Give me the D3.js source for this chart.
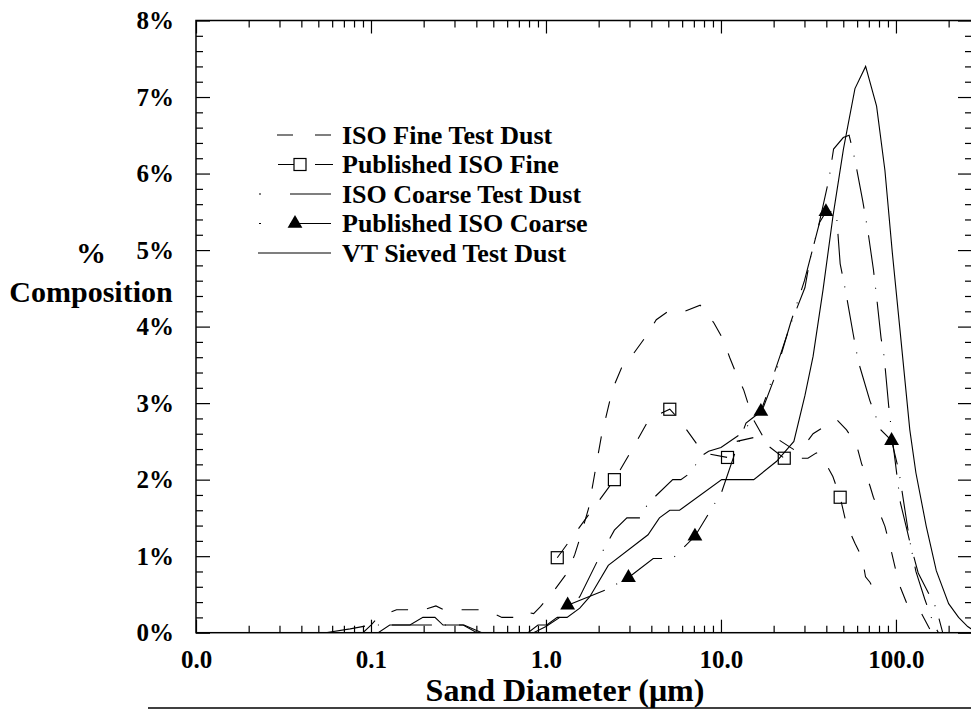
<!DOCTYPE html>
<html><head><meta charset="utf-8">
<script src="https://cdn.jsdelivr.net/npm/d3@7"></script>
<style>
body{margin:0;background:#fff}
svg{display:block}
text{font-family:"Liberation Serif","Times New Roman",serif;font-weight:bold;fill:#000}
</style>
</head><body>
<svg id="chart" width="971" height="711"></svg>
<script>
// ---- data ----
const xTickValues = [0.01, 0.1, 1, 10, 100];
const xTickLabels = ["0.0", "0.1", "1.0", "10.0", "100.0"];
const yTickValues = [0, 1, 2, 3, 4, 5, 6, 7, 8];
const yTickLabels = ["0%", "1%", "2%", "3%", "4%", "5%", "6%", "7%", "8%"];
const seriesNames = ["ISO Fine Test Dust", "Published ISO Fine", "ISO Coarse Test Dust", "Published ISO Coarse", "VT Sieved Test Dust"];

const isoFineSize = [0.09,0.1,0.11,0.14,0.2,0.235,0.26,0.42,0.5,0.56,0.68,0.76,0.85,0.93,1.12,1.32,1.46,1.56,1.75,1.9,2.07,2.31,2.46,2.7,3.17,3.72,4.27,5.0,6.2,7.6,9.1,10.3,11.2,12.2,13.5,15.2,17.5,21.4,26.6,30,33.6,42,46,52.2,59.6,63.6,71,74.3,86.5,94.4,104,115,140,160];
const isoFinePct  = [0,0.1,0.2,0.3,0.3,0.35,0.3,0.3,0.25,0.2,0.2,0.27,0.25,0.34,0.56,0.78,1.02,1.23,1.62,2.08,2.56,3.02,3.24,3.46,3.65,3.87,4.09,4.2,4.2,4.28,4.05,3.83,3.6,3.39,3.17,2.8,2.55,2.52,2.38,2.45,2.6,2.74,2.78,2.65,2.45,2.21,1.92,1.77,1.39,1.05,0.64,0.39,0.25,0];

const pubFineSize = [1.16,2.46,3.1,3.9,5.1,5.8,7.0,7.9,10.9,12.3,15.4,17.7,23,31.4,35.1,38.2,43.6,48,52.2,58.3,64.1,67,71,75];
const pubFinePct  = [0.98,2.0,2.39,2.8,2.92,2.78,2.52,2.35,2.29,2.5,2.55,2.48,2.28,2.28,2.35,2.28,2.04,1.77,1.41,1.17,0.98,0.73,0.66,0.55];
const pubFineMarkSize = [1.16,2.46,5.1,10.9,23,48];
const pubFineMarkPct  = [0.98,2.0,2.92,2.29,2.28,1.77];

const isoCoarseSize = [0.055,0.076,0.1,0.34,0.43,0.85,1.0,1.2,1.56,2.0,2.46,2.9,3.45,3.83,5.3,5.9,6.8,7.6,8.5,10,13,17.5,20,25,30,36,41.5,44,50,54,58.3,64.5,69,74.3,77.5,82.2,85.6,90.9,97,106,120,130,146,165,175];
const isoCoarsePct  = [0,0.05,0.1,0.1,0,0,0.08,0.2,0.47,0.97,1.34,1.5,1.5,1.69,2.0,2.0,2.1,2.3,2.37,2.42,2.6,2.95,3.3,4.05,4.6,5.3,5.94,6.32,6.47,6.5,6.18,5.65,5.26,4.75,4.39,3.85,3.61,2.96,2.4,1.7,1.19,0.8,0.44,0.1,0];

const pubCoarseSize = [1.33,2.2,2.96,4.1,5.3,7.1,10.1,12.2,13.9,16.9,18.2,21.7,24.9,30.2,32.2,36.6,39.8,45.6,48,51.6,57,61,71,82,94.4,104,120,134,170,185];
const pubCoarsePct  = [0.36,0.56,0.72,0.97,0.97,1.26,1.84,2.39,2.74,2.89,3.1,3.61,4.02,4.51,4.87,5.36,5.5,5.5,4.82,4.46,3.9,3.54,3.03,2.65,2.51,2.11,1.19,0.78,0.32,0];
const pubCoarseMarkSize = [1.33,2.96,7.1,16.9,39.8,94.4];
const pubCoarseMarkPct  = [0.36,0.72,1.26,2.89,5.5,2.51];

const vtSize = [0.05,0.11,0.128,0.167,0.198,0.232,0.258,0.336,0.403,0.79,0.9,1.01,1.16,1.32,1.56,1.78,2.27,3.83,4.45,5.1,5.8,10.1,15.4,20.8,26.1,30.2,33.6,38.3,43.7,50.1,58.3,67.1,77.5,86.5,95.3,105,120,130,149,170,200,228,257,290];
const vtPct  = [0,0,0.1,0.1,0.2,0.2,0.1,0.1,0,0,0.1,0.1,0.2,0.2,0.32,0.47,0.88,1.28,1.5,1.6,1.6,2.0,2.0,2.24,2.5,3.1,3.61,4.48,5.45,6.32,7.11,7.4,6.88,6.04,4.97,4.0,2.65,2.09,1.39,0.81,0.38,0.2,0.08,0];

// ---- layout ----
const L = 196, R = 972, T = 20.5, B = 632.7;
const svg = d3.select("#chart");
const x = d3.scaleLog().domain([0.01, 272]).range([L, R]);
const y = d3.scaleLinear().domain([0, 8]).range([B, T]);

const zip = (a, b) => a.map((v, i) => [v, b[i]]);

// minor tick values
const xMinor = [];
xTickValues.forEach(d => { for (let k = 2; k <= 9; k++) { const v = d * k; if (v < 272) xMinor.push(v); } });
const yMinor = d3.range(0, 8.001, 0.2).filter(v => Math.abs(v - Math.round(v)) > 1e-6);

function styleAxis(g) { g.select(".domain").remove(); g.selectAll("line").attr("stroke", "#000").attr("stroke-width", 1.2); }

// bottom major + labels
svg.append("g").attr("transform", `translate(0,${B})`)
  .call(d3.axisBottom(x).tickValues(xTickValues).tickFormat((d, i) => xTickLabels[i]).tickSizeInner(-13).tickSizeOuter(0).tickPadding(17.5))
  .call(styleAxis)
  .selectAll("text").attr("font-size", 25).attr("font-family", null);
svg.append("g").attr("transform", `translate(0,${B})`)
  .call(d3.axisBottom(x).tickValues(xMinor).tickFormat("").tickSizeInner(-7).tickSizeOuter(0)).call(styleAxis);
// top
svg.append("g").attr("transform", `translate(0,${T})`)
  .call(d3.axisTop(x).tickValues(xTickValues).tickFormat("").tickSizeInner(-13).tickSizeOuter(0)).call(styleAxis);
svg.append("g").attr("transform", `translate(0,${T})`)
  .call(d3.axisTop(x).tickValues(xMinor).tickFormat("").tickSizeInner(-7).tickSizeOuter(0)).call(styleAxis);
// left
svg.append("g").attr("transform", `translate(${L},0)`)
  .call(d3.axisLeft(y).tickValues(yTickValues).tickFormat((d, i) => yTickLabels[i]).tickSizeInner(-14).tickSizeOuter(0).tickPadding(22))
  .call(styleAxis)
  .selectAll("text").attr("font-size", 25).attr("font-family", null);
svg.append("g").attr("transform", `translate(${L},0)`)
  .call(d3.axisLeft(y).tickValues(yMinor).tickFormat("").tickSizeInner(-7).tickSizeOuter(0)).call(styleAxis);
// right
svg.append("g").attr("transform", `translate(${R},0)`)
  .call(d3.axisRight(y).tickValues(yTickValues).tickFormat("").tickSizeInner(-14).tickSizeOuter(0)).call(styleAxis);
svg.append("g").attr("transform", `translate(${R},0)`)
  .call(d3.axisRight(y).tickValues(yMinor).tickFormat("").tickSizeInner(-7).tickSizeOuter(0)).call(styleAxis);

// frame
svg.append("rect").attr("x", L).attr("y", T).attr("width", R - L).attr("height", B - T)
  .attr("fill", "none").attr("stroke", "#000").attr("stroke-width", 1.5);

// clip
svg.append("clipPath").attr("id", "clip").append("rect")
  .attr("x", L).attr("y", T).attr("width", R - L).attr("height", B - T);

const line = d3.line().x(d => x(d[0])).y(d => y(d[1]));
const plot = svg.append("g").attr("clip-path", "url(#clip)");
const styles = [
  { dash: "17,19" },
  { dash: "17,19" },
  { dash: "40,13,1,13" },
  { dash: "40,13,1,13" },
  { dash: null }
];
const seriesData = [zip(isoFineSize, isoFinePct), zip(pubFineSize, pubFinePct), zip(isoCoarseSize, isoCoarsePct), zip(pubCoarseSize, pubCoarsePct), zip(vtSize, vtPct)];
seriesData.forEach((data, i) => {
  plot.append("path").datum(data).attr("d", line).attr("fill", "none")
    .attr("stroke", "#000").attr("stroke-width", 1.1)
    .attr("stroke-dasharray", styles[i].dash);
});

// markers
const sq = 12;
plot.selectAll("rect.sq").data(zip(pubFineMarkSize, pubFineMarkPct)).join("rect").attr("class", "sq")
  .attr("x", d => x(d[0]) - sq / 2).attr("y", d => y(d[1]) - sq / 2).attr("width", sq).attr("height", sq)
  .attr("fill", "none").attr("stroke", "#000").attr("stroke-width", 1.2);
const tri = d3.symbol().type(d3.symbolTriangle).size(95);
plot.selectAll("path.tri").data(zip(pubCoarseMarkSize, pubCoarseMarkPct)).join("path").attr("class", "tri")
  .attr("d", tri).attr("transform", d => `translate(${x(d[0])},${y(d[1])})`).attr("fill", "#000");

// legend
const lg = svg.append("g");
const rowY0 = 135, rowDy = 29.5, textX = 342;
seriesNames.forEach((name, i) => {
  const yy = rowY0 + i * rowDy;
  lg.append("text").attr("x", textX).attr("y", yy).attr("dy", "0.33em").attr("font-size", 26).text(name);
});
// sample 0: long dashes
lg.append("line").attr("x1", 277).attr("x2", 333).attr("y1", rowY0).attr("y2", rowY0)
  .attr("stroke", "#000").attr("stroke-width", 1.1).attr("stroke-dasharray", "16,22");
// sample 1: dash with square
lg.append("line").attr("x1", 278).attr("x2", 333).attr("y1", rowY0 + rowDy).attr("y2", rowY0 + rowDy)
  .attr("stroke", "#000").attr("stroke-width", 1.1).attr("stroke-dasharray", "16,21,18,100");
lg.append("rect").attr("x", 300 - sq / 2).attr("y", rowY0 + rowDy - sq / 2).attr("width", sq).attr("height", sq)
  .attr("fill", "#fff").attr("stroke", "#000").attr("stroke-width", 1.2);
// sample 2: dot + long dash
lg.append("line").attr("x1", 259).attr("x2", 331).attr("y1", rowY0 + 2 * rowDy).attr("y2", rowY0 + 2 * rowDy)
  .attr("stroke", "#000").attr("stroke-width", 1.1).attr("stroke-dasharray", "2,29,41,100");
// sample 3: dot + triangle + dash
lg.append("line").attr("x1", 259).attr("x2", 331).attr("y1", rowY0 + 3 * rowDy).attr("y2", rowY0 + 3 * rowDy)
  .attr("stroke", "#000").attr("stroke-width", 1.1).attr("stroke-dasharray", "2,29,41,100");
lg.append("path").attr("d", tri).attr("transform", `translate(295,${rowY0 + 3 * rowDy})`).attr("fill", "#000");
// sample 4: solid
lg.append("line").attr("x1", 258).attr("x2", 331).attr("y1", rowY0 + 4 * rowDy).attr("y2", rowY0 + 4 * rowDy)
  .attr("stroke", "#000").attr("stroke-width", 1.1);

// axis titles
svg.append("text").attr("x", 91).attr("y", 253).attr("dy", "0.33em").attr("text-anchor", "middle").attr("font-size", 30).text("%");
svg.append("text").attr("x", 91).attr("y", 292).attr("dy", "0.33em").attr("text-anchor", "middle").attr("font-size", 30).text("Composition");
svg.append("text").attr("x", 565).attr("y", 701).attr("text-anchor", "middle").attr("font-size", 32).text("Sand Diameter (μm)");

// bottom rule
svg.append("line").attr("x1", 148).attr("x2", 971).attr("y1", 708).attr("y2", 708).attr("stroke", "#000").attr("stroke-width", 1.5);
</script>
</body></html>
